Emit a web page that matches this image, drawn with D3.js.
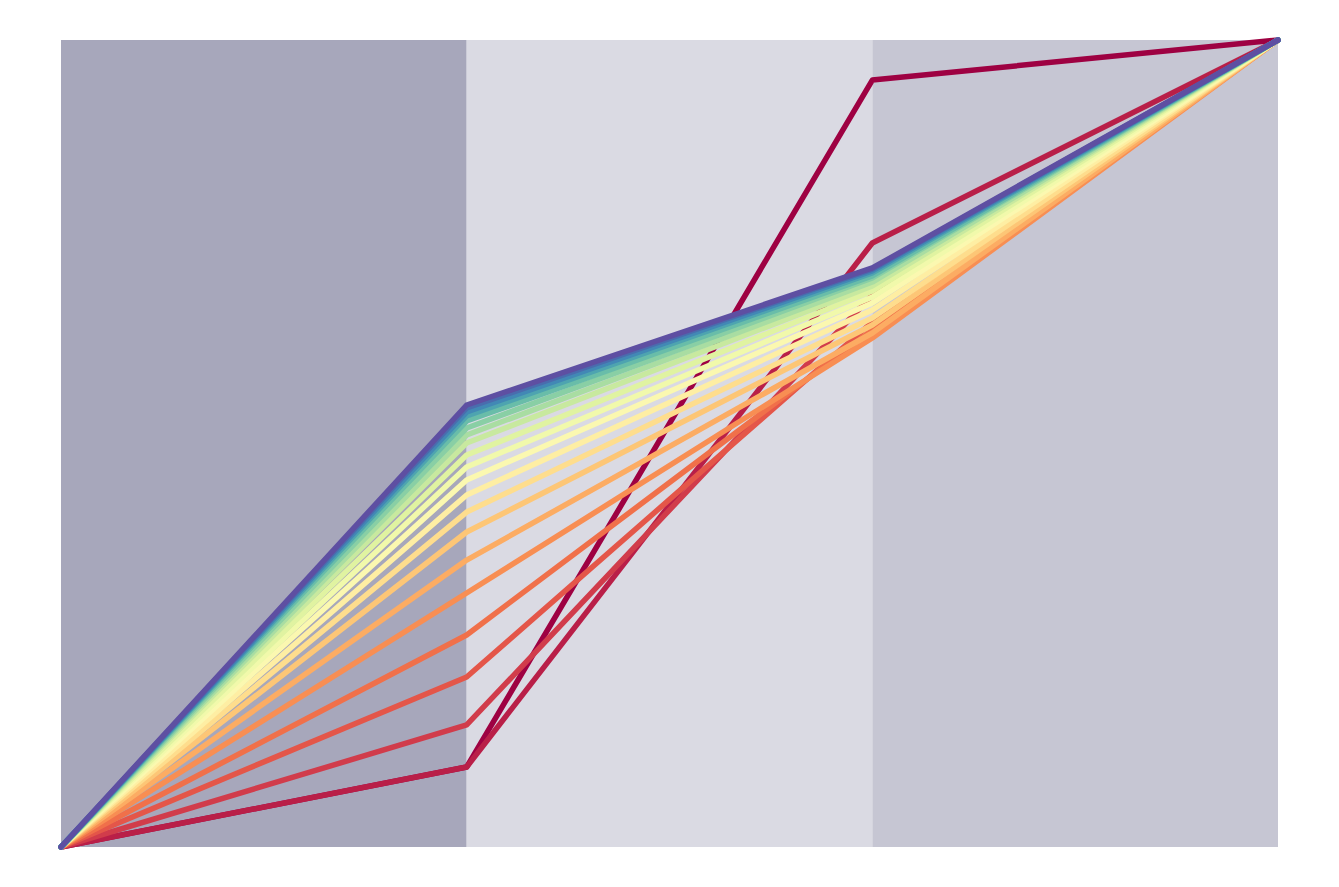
<!DOCTYPE html>
<html>
<head>
<meta charset="utf-8">
<script src="https://cdn.jsdelivr.net/npm/d3@7"></script>
<style>
  html, body { margin: 0; padding: 0; background: #ffffff; }
  svg { display: block; }
</style>
</head>
<body>
<svg id="chart" width="1339" height="887"></svg>
<script>
// Axis positions (4 stages) and the three shaded bands between them
const stages = [0, 1, 2, 3];
const bandColors = ["#a7a7bb", "#dadae3", "#c6c6d3"];

// Cumulative share at each stage, one entry per line (21 lines, drawn in order)
const stage0 = [0,0,0,0,0,0,0,0,0,0,0,0,0,0,0,0,0,0,0,0,0];
const stage1 = [0.0991, 0.0991, 0.1512, 0.2107, 0.2627, 0.3147, 0.3556, 0.3903, 0.4151, 0.4362,
                0.4548, 0.4709, 0.4857, 0.5006, 0.5105, 0.5192, 0.5279, 0.5341, 0.5390, 0.5440, 0.5477];
const stage2 = [0.9504, 0.7485, 0.6840, 0.6506, 0.6406, 0.6307, 0.6369, 0.6468, 0.6555, 0.6654,
                0.6741, 0.6815, 0.6890, 0.6952, 0.7001, 0.7051, 0.7076, 0.7113, 0.7138, 0.7162, 0.7175];
const stage3 = [1,1,1,1,1,1,1,1,1,1,1,1,1,1,1,1,1,1,1,1,1];

const svg = d3.select("#chart");
const W = 1339, H = 887;
const margin = { left: 61, right: 61, top: 40, bottom: 40 };

const x = d3.scaleLinear().domain([0, 3]).range([margin.left, W - margin.right]);
const y = d3.scaleLinear().domain([0, 1]).range([H - margin.bottom, margin.top]);

// bands
svg.append("g").selectAll("rect")
  .data(bandColors)
  .join("rect")
  .attr("x", (d, i) => x(i))
  .attr("y", y(1))
  .attr("width", (d, i) => x(i + 1) - x(i))
  .attr("height", y(0) - y(1))
  .attr("fill", d => d);

const n = stage1.length;
const series = d3.range(n).map(i => [stage0[i], stage1[i], stage2[i], stage3[i]]);
const color = i => d3.interpolateSpectral(i / (n - 1));

const line = d3.line()
  .x((d, k) => x(stages[k]))
  .y(d => y(d));

svg.append("g").selectAll("path")
  .data(series)
  .join("path")
  .attr("d", line)
  .attr("fill", "none")
  .attr("stroke", (d, i) => color(i))
  .attr("stroke-width", 5.5)
  .attr("stroke-linejoin", "round")
  .attr("stroke-linecap", "round");
</script>
</body>
</html>
